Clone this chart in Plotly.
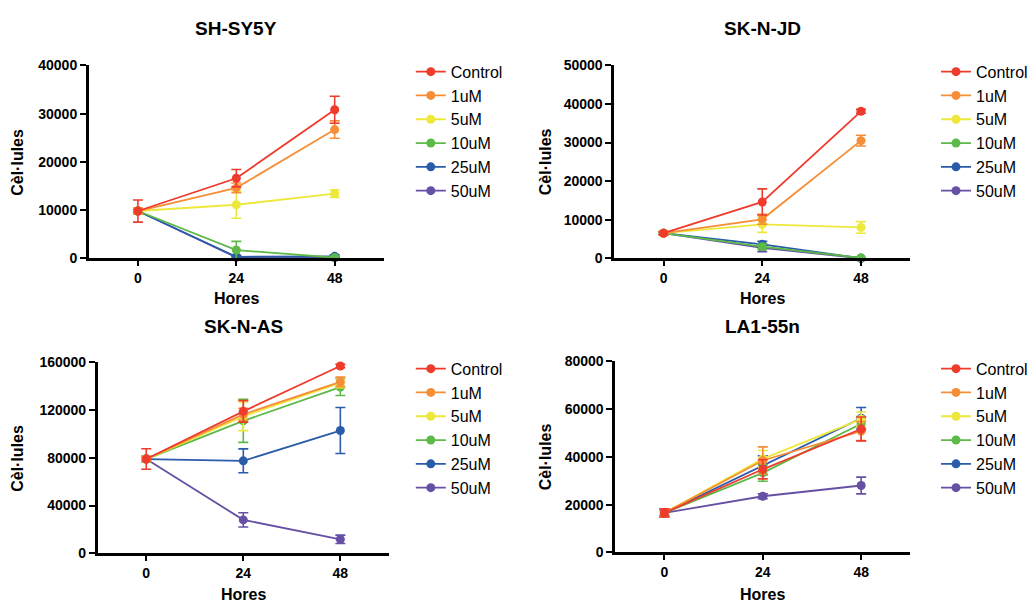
import plotly.graph_objects as go

W, H = 1033, 609

hours = [0, 24, 48]
series_names = ["Control", "1uM", "5uM", "10uM", "25uM", "50uM"]
colors = ["#EF3B2C", "#F68E37", "#EDE83B", "#5DB948", "#2A5CAA", "#6650A4"]

panel_titles = ["SH-SY5Y", "SK-N-JD", "SK-N-AS", "LA1-55n"]
y_max = [40000, 50000, 160000, 80000]
y_dtick = [10000, 10000, 40000, 20000]

# SH-SY5Y
sh_vals = [
    [9800, 16600, 30800],
    [9800, 14600, 26700],
    [9800, 11100, 13400],
    [9800, 1700, 150],
    [9800, 300, 400],
    [9800, 200, 100],
]
sh_err = [
    [2300, 1800, 2800],
    [600, 1000, 1800],
    [600, 2800, 800],
    [300, 1800, 200],
    [300, 300, 300],
    [300, 200, 100],
]
# SK-N-JD
jd_vals = [
    [6500, 14600, 38100],
    [6500, 10100, 30500],
    [6500, 8800, 8000],
    [6500, 3000, 100],
    [6500, 3600, 0],
    [6500, 2700, 0],
]
jd_err = [
    [400, 3400, 500],
    [400, 1300, 1400],
    [400, 2100, 1500],
    [300, 700, 100],
    [300, 800, 100],
    [300, 1000, 100],
]
# SK-N-AS
as_vals = [
    [79000, 119000, 157000],
    [79000, 116500, 143700],
    [79000, 114800, 142900],
    [79000, 111000, 139300],
    [79000, 77500, 102900],
    [79000, 28000, 11700],
]
as_err = [
    [8600, 9000, 1500],
    [2000, 5000, 4000],
    [2000, 12000, 4000],
    [2000, 18000, 7000],
    [2000, 10000, 19300],
    [2000, 6000, 3500],
]
# LA1-55n
la_vals = [
    [16500, 34800, 51700],
    [16500, 38500, 50800],
    [16500, 39200, 55800],
    [16500, 33300, 53900],
    [16500, 36500, 56200],
    [16500, 23500, 28000],
]
la_err = [
    [1700, 4000, 5000],
    [1700, 5700, 4000],
    [1700, 3500, 3000],
    [1700, 3500, 3000],
    [1700, 4000, 4500],
    [1000, 1000, 3500],
]

all_vals = [sh_vals, jd_vals, as_vals, la_vals]
all_err = [sh_err, jd_err, as_err, la_err]

# pixel boxes: (x0, x1, ytop, ybottom)
boxes = [
    (89, 385, 59, 257),
    (616, 913, 59, 257),
    (98, 390, 364, 560),
    (617, 913, 363, 559),
]
legend_pos = [(412, 48), (939, 48), (412, 353), (939, 353)]
title_y = [21, 21, 327, 327]
ytitle_x = [18, 547, 18, 547]
xtitle_y = [298, 298, 602, 602]

FONT = "Liberation Sans, Arial, sans-serif"

fig = go.Figure()

for p in range(4):
    xa = "x" if p == 0 else f"x{p+1}"
    ya = "y" if p == 0 else f"y{p+1}"
    lg = "legend" if p == 0 else f"legend{p+1}"
    for i in reversed(range(6)):
        fig.add_trace(go.Scatter(
            x=hours, y=all_vals[p][i], name=series_names[i],
            mode="lines+markers",
            line=dict(color=colors[i], width=1.8),
            marker=dict(color=colors[i], size=9, symbol="circle"),
            error_y=dict(type="data", array=all_err[p][i], visible=True,
                         color=colors[i], thickness=1.6, width=5),
            xaxis=xa, yaxis=ya, legend=lg, cliponaxis=False,
        ))

layout = dict(
    width=W, height=H, margin=dict(l=0, r=0, t=0, b=0),
    paper_bgcolor="white", plot_bgcolor="white",
    font=dict(family=FONT, color="black"),
    showlegend=True,
)

annotations = []
for p in range(4):
    x0, x1, yt, yb = boxes[p]
    sx = "" if p == 0 else str(p + 1)
    layout["xaxis" + sx] = dict(
        domain=[x0 / W, x1 / W], anchor="y" + sx, range=[-12, 60],
        tickvals=hours, ticktext=[str(h) for h in hours],
        showline=True, linecolor="black", linewidth=2.5,
        ticks="outside", ticklen=5, tickwidth=2, tickcolor="black",
        showgrid=False, zeroline=False,
        tickfont=dict(family=FONT, size=14, color="black", weight="bold"),
    )
    layout["yaxis" + sx] = dict(
        domain=[1 - yb / H, 1 - yt / H], anchor="x" + sx, range=[0, y_max[p]],
        dtick=y_dtick[p], tick0=0, tickformat="d",
        showline=True, linecolor="black", linewidth=2.5,
        ticks="outside", ticklen=6, tickwidth=2, tickcolor="black",
        showgrid=False, zeroline=False, ticklabelstandoff=0,
        tickfont=dict(family=FONT, size=14, color="black", weight="bold"),
    )
    lx, ly = legend_pos[p]
    lkey = "legend" if p == 0 else f"legend{p+1}"
    layout[lkey] = dict(
        x=lx / W, y=1 - ly / H, xanchor="left", yanchor="top",
        traceorder="reversed", bgcolor="rgba(0,0,0,0)",
        font=dict(family=FONT, size=16, color="black"),
        itemwidth=30, tracegroupgap=0,
    )
    annotations.append(dict(
        text=f"<b>{panel_titles[p]}</b>", x=(x0 + x1) / 2 / W, y=1 - title_y[p] / H,
        xref="paper", yref="paper", xanchor="center", yanchor="middle",
        showarrow=False, font=dict(family=FONT, size=19, color="black"),
    ))
    annotations.append(dict(
        text="<b>Hores</b>", x=(x0 + x1) / 2 / W, y=1 - xtitle_y[p] / H,
        xref="paper", yref="paper", xanchor="center", yanchor="middle",
        showarrow=False, font=dict(family=FONT, size=16, color="black"),
    ))
    annotations.append(dict(
        text="<b>Cèl·lules</b>", x=ytitle_x[p] / W, y=1 - (yt + yb) / 2 / H,
        xref="paper", yref="paper", xanchor="center", yanchor="middle",
        textangle=-90,
        showarrow=False, font=dict(family=FONT, size=16, color="black"),
    ))

layout["annotations"] = annotations
fig.update_layout(**layout)
fig.write_html("out.html")
